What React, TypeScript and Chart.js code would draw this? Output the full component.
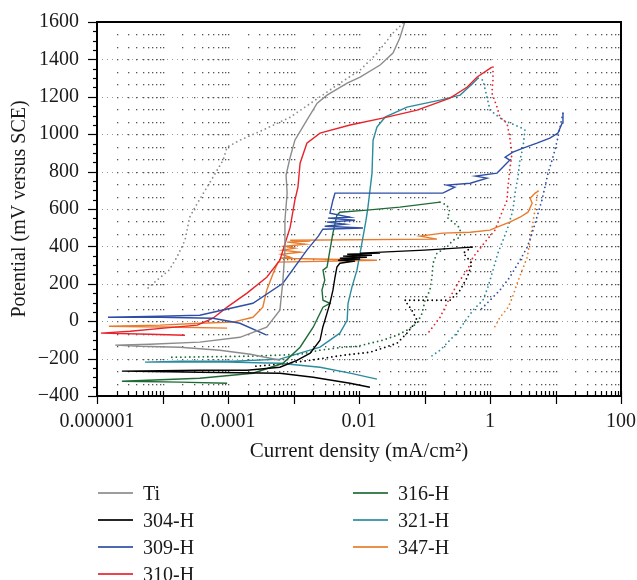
import React, { useEffect, useRef } from 'react';
import { Chart, registerables } from 'chart.js';
Chart.register(...registerables);

// ---- data (current density mA/cm2, potential mV vs SCE) ----
const seriesNames = ['Ti', '304-H', '309-H', '310-H', '316-H', '321-H', '347-H'];
const seriesColors = ['#8c8c8c', '#000000', '#2f4fa6', '#e8232b', '#1f6b37', '#2a8c9d', '#e97b2c'];

const tiFwdI = [6.2e-4, 2.2e-4, 7.5e-5, 1.85e-5, 4.5e-6, 1.9e-6, 6.4e-6, 3.7e-5, 1.52e-4, 3.9e-4, 6.2e-4, 6.9e-4, 7.4e-4, 7.4e-4, 8.0e-4, 7.7e-4, 8.9e-4, 1.05e-3, 1.6e-3, 2.3e-3, 3.25e-3, 6.6e-3, 1.04e-2, 2.1e-2, 3.3e-2, 4.2e-2, 5.0e-2];
const tiFwdE = [-209, -177, -155, -139, -134, -128, -123, -112, -86, -32, 59, 219, 380, 540, 685, 781, 877, 968, 1075, 1166, 1209, 1273, 1305, 1370, 1434, 1514, 1600];
const tiRevI = [4.7e-2, 3.3e-2, 1.9e-2, 1.04e-2, 5.1e-3, 2.5e-3, 8.9e-4, 3.4e-4, 1.52e-4, 9.7e-5, 8.4e-5, 5.9e-5, 4.5e-5, 3.4e-5, 2.6e-5, 2.2e-5, 1.66e-5, 1.26e-5, 8.2e-6, 6.0e-6];
const tiRevE = [1594, 1541, 1434, 1343, 1273, 1198, 1091, 1022, 968, 931, 861, 770, 701, 631, 556, 433, 342, 273, 219, 177];

const s304FwdI = [1.47e-2, 7.3e-3, 2.0e-3, 6.2e-4, 3.7e-5, 2.4e-6, 3.7e-5, 1.95e-4, 6.2e-4, 1.13e-3, 1.8e-3, 2.54e-3, 2.8e-3, 3.25e-3, 3.6e-3, 4.0e-3, 4.3e-3, 4.6e-3, 5.1e-3, 8.7e-3, 4.8e-3, 1.04e-2, 5.1e-3, 1.32e-2, 5.7e-3, 1.58e-2, 6.6e-3, 2.1e-2, 1.04e-2, 0.1, 0.53];
const s304FwdE = [-353, -332, -300, -278, -273, -267, -262, -262, -246, -209, -171, -102, -32, 43, 96, 166, 235, 289, 310, 321, 326, 332, 337, 342, 348, 353, 358, 364, 364, 380, 396];
const s304RevI = [0.53, 0.39, 0.53, 0.45, 0.35, 0.245, 0.109, 0.05, 0.064, 0.077, 0.054, 0.038, 0.023, 0.0147, 5.7e-3, 1.8e-3, 6.2e-4, 2.6e-4];
const s304RevE = [396, 364, 310, 235, 166, 112, 112, 112, 59, 5, -64, -118, -144, -166, -182, -209, -230, -241];

const s309FwdI = [3.9e-4, 1.52e-4, 5.9e-5, 9.2e-6, 1.47e-6, 9.2e-6, 3.7e-5, 2.4e-4, 6.9e-4, 1.6e-3, 2.4e-3, 2.8e-3, 1.15e-2, 3.0e-3, 6.1e-3, 3.25e-3, 8.7e-3, 3.36e-3, 7.3e-3, 3.6e-3, 4.0e-3, 4.3e-3, 0.19, 0.29, 0.22, 0.5, 0.9, 0.6, 1.28, 1.58, 2.0, 1.7, 2.24, 3.2, 5.2, 8.2, 10.9, 12.6, 13];
const s309FwdE = [-75, -11, 16, 21, 21, 27, 32, 96, 203, 380, 455, 492, 498, 508, 519, 530, 540, 551, 556, 578, 647, 685, 685, 717, 728, 738, 765, 776, 792, 824, 861, 877, 904, 926, 952, 979, 1006, 1059, 1113];
const s309RevI = [13, 10.9, 9.8, 8.85, 7.7, 6.9, 6.2, 5.2, 4.4, 3.7, 2.87, 2.0, 1.42, 1.0, 0.68];
const s309RevE = [1113, 984, 915, 861, 792, 717, 647, 556, 471, 396, 326, 235, 166, 112, 53];

const s310FwdI = [2.2e-5, 6.4e-6, 1.15e-6, 3.2e-6, 1.05e-5, 3.4e-5, 5.9e-5, 9.7e-5, 1.95e-4, 3.9e-4, 6.2e-4, 8.9e-4, 1.05e-3, 1.17e-3, 1.26e-3, 1.6e-3, 2.54e-3, 7.3e-3, 2.3e-2, 7.7e-2, 0.245, 0.45, 0.63, 1.07];
const s310FwdE = [-75, -70, -64, -54, -37, -21, 16, 75, 150, 235, 326, 503, 647, 717, 845, 952, 1006, 1049, 1086, 1129, 1193, 1252, 1305, 1359];
const s310RevI = [1.11, 1.11, 1.07, 1.28, 1.42, 1.82, 2.0, 2.17, 2.0, 1.88, 1.82, 1.42, 1.19, 0.84, 0.55, 0.45, 0.33, 0.245, 0.173, 0.113];
const s310RevE = [1359, 1289, 1220, 1145, 1091, 1059, 984, 899, 808, 717, 647, 556, 487, 423, 342, 273, 209, 128, 21, -64];

const s316FwdI = [9.7e-5, 1.85e-5, 2.4e-6, 3.7e-5, 2.4e-4, 6.9e-4, 1.26e-3, 2.0e-3, 2.82e-3, 3.6e-3, 2.82e-3, 2.72e-3, 3.0e-3, 2.82e-3, 3.25e-3, 3.6e-3, 4.0e-3, 4.6e-3, 5.1e-3, 1.32e-2, 4.2e-2, 0.173];
const s316FwdE = [-332, -326, -321, -305, -278, -225, -139, -32, 75, 96, 112, 166, 219, 273, 289, 380, 471, 567, 583, 594, 610, 637];
const s316RevI = [0.173, 0.22, 0.245, 0.22, 0.27, 0.35, 0.35, 0.27, 0.22, 0.155, 0.135, 0.13, 0.121, 0.102, 0.092, 0.077, 0.054, 0.038, 0.023, 0.0147, 9.3e-3, 5.7e-3, 2.54e-3, 1.26e-3, 2.2e-4, 1.26e-5];
const s316RevE = [637, 621, 583, 556, 530, 498, 449, 433, 396, 364, 310, 235, 166, 112, 43, -11, -48, -75, -102, -118, -134, -139, -155, -177, -187, -193];

const s321FwdI = [1.88e-2, 7.3e-3, 2.54e-3, 6.2e-4, 9.7e-5, 1.85e-5, 5.4e-6, 1.85e-5, 1.2e-4, 6.2e-4, 2.54e-3, 5.1e-3, 6.6e-3, 6.8e-3, 7.8e-3, 9.3e-3, 1.04e-2, 1.15e-2, 1.28e-2, 1.37e-2, 1.58e-2, 1.64e-2, 1.88e-2, 2.5e-2, 5.4e-2, 0.173, 0.35, 0.55, 0.66];
const s321FwdE = [-310, -278, -246, -225, -219, -219, -219, -214, -214, -203, -139, -64, 5, 96, 182, 273, 364, 449, 540, 610, 792, 968, 1038, 1091, 1145, 1182, 1209, 1273, 1300];
const s321RevI = [0.66, 0.78, 0.9, 1.0, 1.58, 2.87, 3.42, 3.19, 2.87, 2.67, 2.41, 2.24, 1.88, 1.58, 1.32, 1.11, 0.93, 0.78, 0.55, 0.31, 0.173, 0.121];
const s321RevE = [1300, 1289, 1198, 1129, 1075, 1038, 1022, 931, 861, 770, 685, 594, 503, 433, 364, 273, 182, 112, 59, -64, -155, -193];

const s347FwdI = [9.7e-5, 1.85e-5, 1.52e-6, 9.2e-6, 3.7e-5, 1.19e-4, 2.4e-4, 3.4e-4, 3.9e-4, 4.9e-4, 5.8e-4, 1.88e-2, 6.2e-4, 8.9e-4, 6.5e-4, 1.26e-3, 6.9e-4, 1.05e-3, 7.4e-4, 1.5e-3, 8.0e-4, 1.8e-3, 8.9e-4, 0.155, 8.6e-2, 0.19, 0.5, 1.0, 1.28, 2.0, 2.87, 3.8, 4.4, 4.1, 4.9, 5.4];
const s347FwdE = [-37, -32, -27, -21, -11, -5, 21, 75, 166, 257, 316, 326, 337, 342, 358, 369, 380, 390, 401, 412, 423, 428, 433, 439, 455, 471, 476, 487, 503, 530, 556, 583, 631, 658, 685, 695];
const s347RevI = [5.4, 4.86, 4.5, 4.1, 3.7, 3.1, 2.6, 2.2, 1.9, 1.42, 1.11];
const s347RevE = [695, 594, 524, 433, 342, 273, 203, 128, 75, 21, -48];

const xTickValues = [1e-6, 1e-4, 1e-2, 1, 100];
const xTickLabels = ['0.000001', '0.0001', '0.01', '1', '100'];
const yMin = -400;
const yMax = 1600;
const yStep = 200;
const xTitle = 'Current density (mA/cm\u00B2)';
const yTitle = 'Potential (mV versus SCE)';

const forward = [
  [tiFwdI, tiFwdE], [s304FwdI, s304FwdE], [s309FwdI, s309FwdE], [s310FwdI, s310FwdE],
  [s316FwdI, s316FwdE], [s321FwdI, s321FwdE], [s347FwdI, s347FwdE],
];
const reverse = [
  [tiRevI, tiRevE], [s304RevI, s304RevE], [s309RevI, s309RevE], [s310RevI, s310RevE],
  [s316RevI, s316RevE], [s321RevI, s321RevE], [s347RevI, s347RevE],
];

const FONT = "'Liberation Serif', 'Times New Roman', serif";

const toPts = (I: number[], E: number[]) => I.map((x, i) => ({ x, y: E[i] }));

const gridAxesPlugin = {
  id: 'gridAxes',
  beforeDatasetsDraw(chart: any) {
    const { ctx, chartArea: a, scales } = chart;
    const x = scales.x;
    const y = scales.y;
    ctx.save();
    const cols: number[] = [];
    for (let k = -6; k <= 1; k++) for (let m = 2; m <= 10; m++) cols.push(m * Math.pow(10, k));
    for (let j = 1; j < 30; j++) {
      const v = yMin + (j * yStep) / 3;
      const py = Math.round(y.getPixelForValue(v));
      if (j % 3 === 0) {
        ctx.strokeStyle = '#9a9a9a';
        ctx.lineWidth = 1;
        ctx.setLineDash([1, 4]);
        ctx.beginPath();
        ctx.moveTo(a.left, py + 0.5);
        ctx.lineTo(a.right, py + 0.5);
        ctx.stroke();
        ctx.setLineDash([]);
      }
      ctx.fillStyle = '#555';
      cols.forEach((c) => {
        const px = Math.round(x.getPixelForValue(c));
        if (px < a.right - 2) ctx.fillRect(px, py, 1.3, 1.3);
      });
    }
    ctx.restore();
  },
  afterDatasetsDraw(chart: any) {
    const { ctx, chartArea: a, scales } = chart;
    const x = scales.x;
    const y = scales.y;
    ctx.save();
    ctx.strokeStyle = '#000';
    ctx.lineWidth = 1.2;
    for (let v = yMin; v <= yMax; v += 50) {
      const py = Math.round(y.getPixelForValue(v)) + 0.5;
      const major = v % yStep === 0;
      ctx.beginPath();
      ctx.moveTo(a.left - (major ? 9 : 4), py);
      ctx.lineTo(a.left, py);
      ctx.stroke();
    }
    for (let k = -6; k <= 2; k++) {
      for (let m = 1; m <= 9; m++) {
        const val = m * Math.pow(10, k);
        if (val > 100.0001) break;
        const px = Math.round(x.getPixelForValue(val)) + 0.5;
        const major = m === 1;
        ctx.beginPath();
        ctx.moveTo(px, a.bottom - 5);
        ctx.lineTo(px, a.bottom + (major ? 8 : 0));
        ctx.stroke();
      }
    }
    ctx.lineWidth = 2;
    ctx.strokeRect(a.left, a.top, a.right - a.left, a.bottom - a.top);
    ctx.restore();
  },
};

const legendLeft = [0, 1, 2, 3];
const legendRight = [4, 5, 6];

export default function App() {
  const canvasRef = useRef<HTMLCanvasElement | null>(null);

  useEffect(() => {
    const canvas = canvasRef.current;
    if (!canvas) return;
    const datasets: any[] = [];
    forward.forEach(([I, E], i) => {
      datasets.push({
        label: seriesNames[i],
        data: toPts(I, E),
        borderColor: seriesColors[i],
        borderWidth: 1.4,
        pointRadius: 0,
        tension: 0,
        fill: false,
        order: i,
      });
    });
    reverse.forEach(([I, E], i) => {
      datasets.push({
        label: seriesNames[i] + ' reverse',
        data: toPts(I, E),
        borderColor: seriesColors[i],
        borderWidth: 1.8,
        borderDash: [0, 4.5],
        borderCapStyle: 'round',
        pointRadius: 0,
        tension: 0,
        fill: false,
        order: 20 + i,
      });
    });

    const chart = new Chart(canvas, {
      type: 'line',
      data: { datasets },
      options: {
        animation: false,
        responsive: false,
        layout: { padding: { left: 0, top: 22, right: 16, bottom: 116 } },
        plugins: { legend: { display: false }, tooltip: { enabled: false } },
        scales: {
          x: {
            type: 'logarithmic',
            min: 1e-6,
            max: 100,
            afterBuildTicks: (s: any) => {
              s.ticks = xTickValues.map((v) => ({ value: v }));
            },
            afterFit: (s: any) => {
              s.height = 68;
              s.paddingLeft = 0;
              s.paddingRight = 0;
            },
            grid: { display: false },
            border: { display: false },
            ticks: {
              autoSkip: false,
              maxRotation: 0,
              padding: 6,
              color: '#1a1a1a',
              font: { family: FONT, size: 20 },
              callback: (_v: any, i: number) => xTickLabels[i] ?? '',
            },
            title: {
              display: true,
              text: xTitle,
              color: '#1a1a1a',
              font: { family: FONT, size: 21 },
              padding: { top: 0, bottom: 0 },
            },
          },
          y: {
            type: 'linear',
            min: yMin,
            max: yMax,
            afterFit: (s: any) => {
              s.width = 97;
              s.paddingTop = 0;
              s.paddingBottom = 0;
            },
            grid: { display: false },
            border: { display: false },
            ticks: {
              stepSize: yStep,
              padding: 10,
              color: '#1a1a1a',
              font: { family: FONT, size: 20 },
              callback: (v: any) => (Number(v) < 0 ? '\u2212' + Math.abs(Number(v)) : String(v)),
            },
            title: {
              display: true,
              text: yTitle,
              color: '#1a1a1a',
              font: { family: FONT, size: 20 },
              padding: { top: 8, bottom: 0 },
            },
          },
        },
      },
      plugins: [gridAxesPlugin],
    } as any);
    return () => chart.destroy();
  }, []);

  const legendItem = (idx: number, row: number, col: number) => (
    <div
      key={idx}
      style={{
        position: 'absolute',
        left: col === 0 ? 98 : 353,
        top: 493 + row * 27 - 13,
        height: 26,
        display: 'flex',
        alignItems: 'center',
        fontFamily: FONT,
        fontSize: 20,
        color: '#1a1a1a',
        whiteSpace: 'nowrap',
      }}
    >
      <span style={{ display: 'inline-block', width: 35, height: 2, background: seriesColors[idx], opacity: 0.85 }} />
      <span style={{ marginLeft: 10 }}>{seriesNames[idx]}</span>
    </div>
  );

  return (
    <div style={{ position: 'absolute', left: 0, top: 0, width: 637, height: 580, background: '#fff', overflow: 'hidden' }}>
      <canvas ref={canvasRef} width={637} height={580} style={{ display: 'block' }} />
      {legendLeft.map((idx, r) => legendItem(idx, r, 0))}
      {legendRight.map((idx, r) => legendItem(idx, r, 1))}
    </div>
  );
}
